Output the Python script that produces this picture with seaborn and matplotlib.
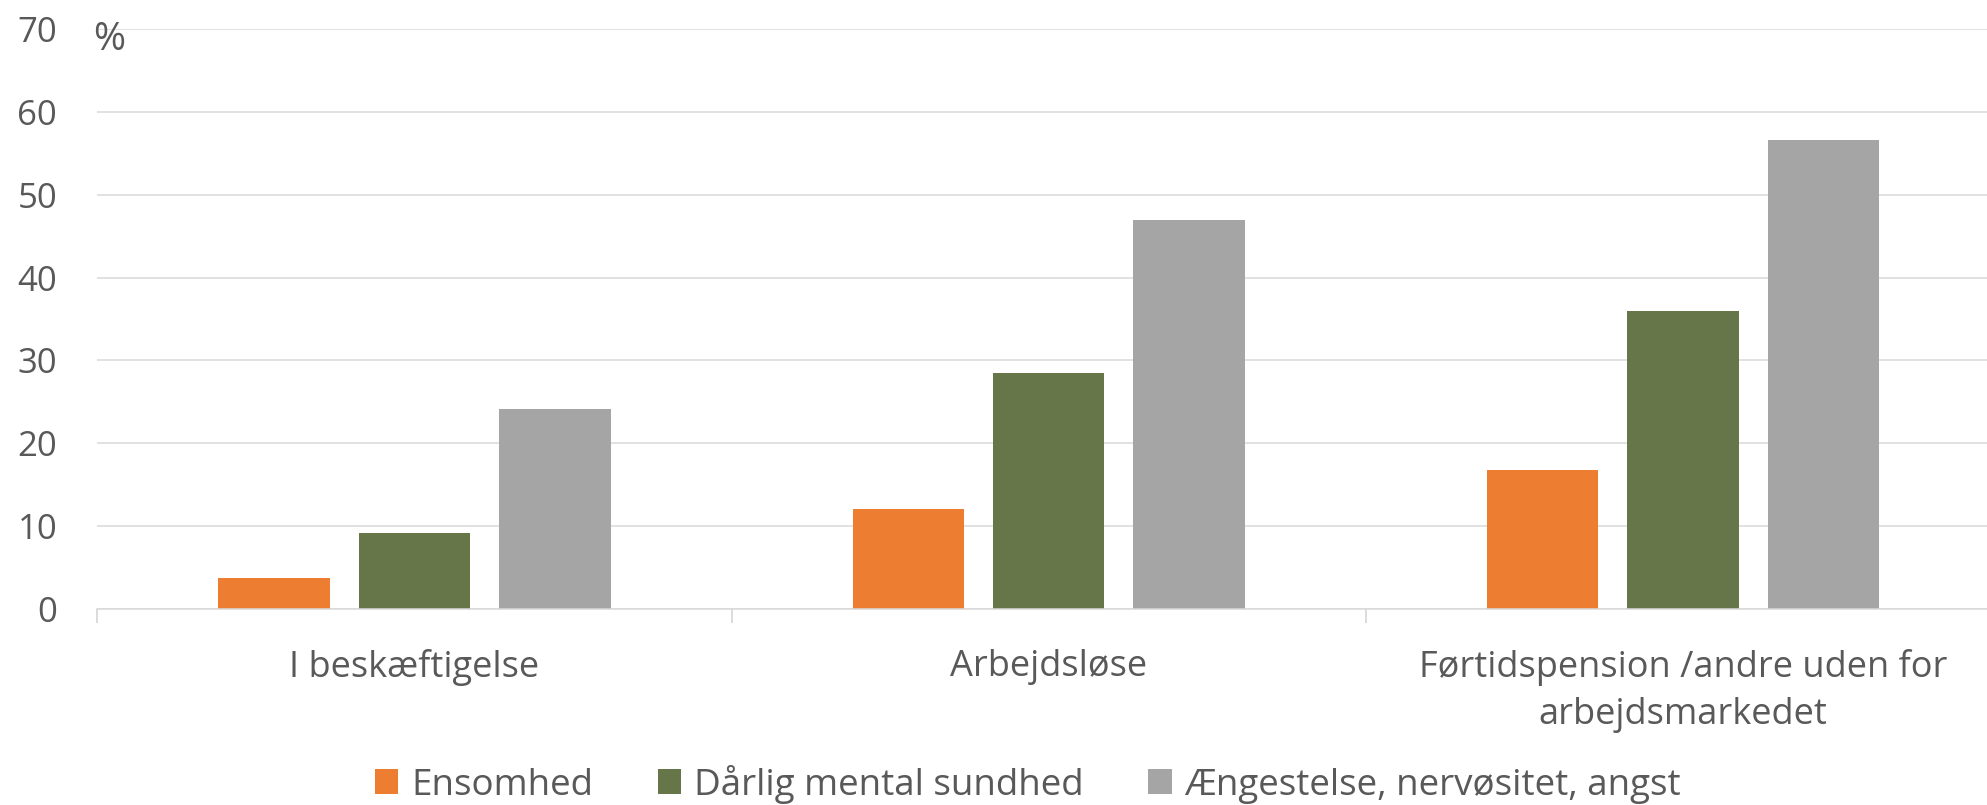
import matplotlib
matplotlib.use("Agg")
import matplotlib.pyplot as plt
import pandas as pd
import seaborn as sns

# Employment status groups
groups = ["I beskæftigelse", "Arbejdsløse", "Førtidspension /andre uden for\narbejdsmarkedet"]

# Share (%) reporting each problem
ensomhed = [3.7, 12.0, 16.7]
daarlig_mental = [9.1, 28.5, 36.0]
angst = [24.1, 47.0, 56.6]

series_names = ["Ensomhed", "Dårlig mental sundhed", "Ængestelse, nervøsitet, angst"]
colors = ["#ED7D31", "#667649", "#A5A5A5"]
yticks = [0, 10, 20, 30, 40, 50, 60, 70]

df = pd.DataFrame({
    "gruppe": groups * 3,
    "pct": ensomhed + daarlig_mental + angst,
    "serie": [series_names[0]] * 3 + [series_names[1]] * 3 + [series_names[2]] * 3,
})

sns.set_style("white")
plt.rcParams["font.family"] = ["Open Sans", "DejaVu Sans"]

TEXT = "#595959"
GRID = "#D9D9D9"

W, H = 1987, 805
fig = plt.figure(figsize=(W / 100, H / 100), dpi=100)
left, right, bottom, top = 97.4, 2000.0, 608.7, 29.3
ax = fig.add_axes([left / W, (H - bottom) / H, (right - left) / W, (bottom - top) / H])

sns.barplot(
    data=df, x="gruppe", y="pct", hue="serie", order=groups, hue_order=series_names,
    palette=colors, saturation=1, width=0.664, gap=0.207, linewidth=0, ax=ax,
)

ax.set_xlim(-0.5, 2.5)
ax.set_ylim(0, 70)
ax.set_yticks(yticks)
ax.set_yticklabels([str(v) for v in yticks])
ax.set_xlabel("")
ax.set_ylabel("")

ax.yaxis.grid(True, color=GRID, linewidth=1.1)
ax.set_axisbelow(True)
for side in ["top", "right", "left"]:
    ax.spines[side].set_visible(False)
ax.spines["bottom"].set_color(GRID)
ax.spines["bottom"].set_linewidth(1.1)

ax.tick_params(axis="y", length=0, pad=29, labelsize=25, labelcolor=TEXT)
ax.tick_params(axis="x", which="major", bottom=True, length=0, pad=29, labelsize=26, labelcolor=TEXT)
ax.set_xticks([-0.5, 0.5, 1.5, 2.5], minor=True)
ax.tick_params(axis="x", which="minor", bottom=True, length=10, width=1.3, color=GRID, direction="out")
for lbl in ax.get_xticklabels():
    lbl.set_linespacing(1.4)

fig.text(92.7 / W, 1 - 50 / H, "%", ha="left", va="baseline", fontsize=28, color=TEXT)

handles, labels = ax.get_legend_handles_labels()
if ax.get_legend() is not None:
    ax.get_legend().remove()
fig.legend(
    handles, labels, loc="center", bbox_to_anchor=(1028 / W, (H - 784) / H), ncol=3,
    frameon=False, fontsize=26.5, labelcolor=TEXT, handlelength=0.64, handleheight=0.64,
    handletextpad=0.35, columnspacing=1.75,
)

fig.savefig("out.png", dpi=100, facecolor="white")
